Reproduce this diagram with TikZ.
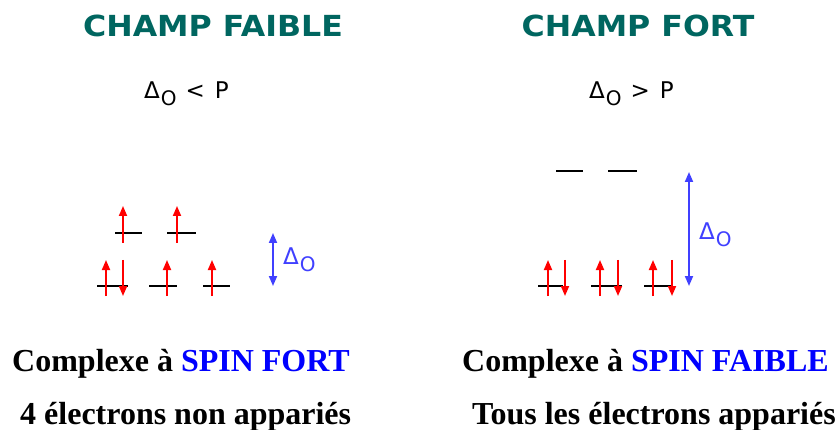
\documentclass[tikz,border=0pt]{standalone}
\usepackage{fontspec}
\setmainfont{Liberation Serif}
\newfontfamily\verd{DejaVu Sans}
\usetikzlibrary{arrows.meta}
\definecolor{tealtitle}{RGB}{0,102,96}
\definecolor{spinblue}{RGB}{0,0,255}
\definecolor{gapblue}{RGB}{64,64,255}
\definecolor{spinred}{RGB}{255,0,0}
\newcommand\spinUp[3]{\draw[spinup] (#1,#2) -- (#1,#3);}
\newcommand\spinDown[3]{\draw[spindown] (#1,#3) -- (#1,#2);}
\newcommand\DeltaO{Δ\hspace{1pt}\raisebox{-7pt}{\fontsize{20}{20}\selectfont O}}
\begin{document}
\begin{tikzpicture}[x=1pt,y=-1pt,
  level/.style={line width=1.1pt,black},
  spinup/.style={spinred,line width=1.8pt,-{Triangle[length=10pt,width=8pt]}},
  spindown/.style={spinred,line width=1.8pt,-{Triangle[length=10pt,width=8pt]}},
  gap/.style={gapblue,line width=1.8pt,{Triangle[length=10pt,width=8pt]}-{Triangle[length=10pt,width=8pt]}},
  title/.style={text=tealtitle,inner sep=0,font=\verd\bfseries\fontsize{29}{29}\selectfont},
  cond/.style={inner sep=0,font=\verd\fontsize{23}{23}\selectfont},
  gaplabel/.style={inner sep=0,text=gapblue,font=\verd\fontsize{23}{23}\selectfont},
  bottom/.style={inner sep=0,font=\bfseries\fontsize{32}{32}\selectfont}
]
\useasboundingbox (0,0) rectangle (840,430);
\fill[white] (0,0) rectangle (840,430);

% titles
\node[title,anchor=base] (t1) at (213,37) {\scalebox{1.09}[1]{CHAMP FAIBLE}};
\node[title,anchor=base] (t2) at (638,37) {\scalebox{1.09}[1]{CHAMP FORT}};

% conditions
\node[cond,anchor=base west] (c1) at (144,99) {\DeltaO\hspace{9pt}<\hspace{10pt}P};
\node[cond,anchor=base west] (c2) at (589,99) {\DeltaO\hspace{9pt}>\hspace{10pt}P};

% ---- left: weak field ----
\draw[level] (115,233) -- (142,233);
\draw[level] (167,233) -- (196,233);
\draw[level] (97,286) -- (128,286);
\draw[level] (149,286) -- (177,286);
\draw[level] (203,286) -- (230,286);
\spinUp{123}{243}{206}
\spinUp{177}{243}{206}
\spinUp{106}{296}{260}
\spinDown{123}{296}{260}
\spinUp{167}{296}{260}
\spinUp{212}{296}{260}
\coordinate (g1a) at (273,233);
\coordinate (g1b) at (273,286);
\draw[gap] (g1a) -- (g1b);
\node[gaplabel,anchor=base west] (d1) at (283,265) {\DeltaO};

% ---- right: strong field ----
\draw[level] (556,171) -- (583,171);
\draw[level] (608,171) -- (637,171);
\draw[level] (538,286) -- (563,286);
\draw[level] (591,286) -- (622,286);
\draw[level] (644,286) -- (672,286);
\spinUp{548}{296}{260}
\spinDown{565}{296}{260}
\spinUp{600}{296}{260}
\spinDown{618}{296}{260}
\spinUp{653}{296}{260}
\spinDown{672}{296}{260}
\coordinate (g2a) at (689,172);
\coordinate (g2b) at (689,286);
\draw[gap] (g2a) -- (g2b);
\node[gaplabel,anchor=base west] (d2) at (699,240) {\DeltaO};

% bottom texts
\node[bottom,anchor=base west] (b1) at (12,371) {Complexe à \textcolor{spinblue}{SPIN FORT}};
\node[bottom,anchor=base west] (b2) at (20,424) {4 électrons non appariés};
\node[bottom,anchor=base west] (b3) at (462,371) {Complexe à \textcolor{spinblue}{SPIN FAIBLE}};
\node[bottom,anchor=base west] (b4) at (472,424) {Tous les électrons appariés};
\end{tikzpicture}
\end{document}
